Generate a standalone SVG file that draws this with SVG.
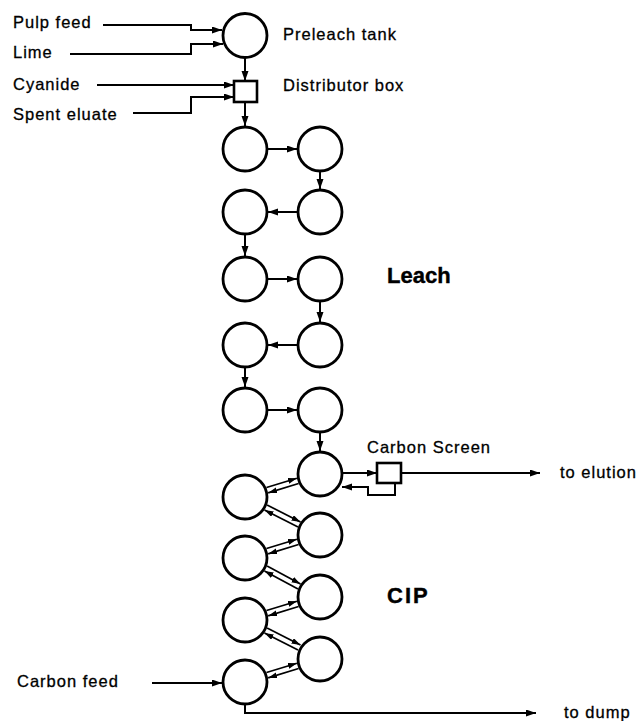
<svg xmlns="http://www.w3.org/2000/svg" width="639" height="721" viewBox="0 0 639 721">
  <defs>
    <marker id="arr" markerUnits="userSpaceOnUse" markerWidth="10" markerHeight="8" refX="10" refY="3.5" orient="auto">
      <path d="M0,0 L10,3.5 L0,7 z" fill="#000"/>
    </marker>
    <marker id="arrS" markerUnits="userSpaceOnUse" markerWidth="9" markerHeight="7" refX="9" refY="3" orient="auto">
      <path d="M0,0 L9,3 L0,6 z" fill="#000"/>
    </marker>
    <style>
      .tank { fill: #fff; stroke: #000; stroke-width: 2.8; }
      .box { fill: #fff; stroke: #000; stroke-width: 2.6; }
      .flow { fill: none; stroke: #000; stroke-width: 2; marker-end: url(#arr); }
      .xfer { fill: none; stroke: #000; stroke-width: 1.7; marker-end: url(#arrS); }
      .lbl { font-family: "Liberation Sans", Arial, sans-serif; font-size: 16.5px; letter-spacing: 1px; fill: #000; stroke: #000; stroke-width: 0.3px; }
      .big { font-family: "Liberation Sans", Arial, sans-serif; font-size: 22px; font-weight: bold; fill: #000; stroke: #000; stroke-width: 0.4px; }
    </style>
  </defs>
  <rect width="639" height="721" fill="#fff"/>

  <!-- connectors -->
  <g id="connectors">
    <!-- feeds into preleach tank and distributor -->
    <path class="flow" d="M103,25 H191 V30 H222"/>
    <path class="flow" d="M70,54 H191 V44 H223"/>
    <path class="flow" d="M97,85 H234"/>
    <path class="flow" d="M133,113 H191 V97 H234"/>
    <path class="flow" d="M245,58 V81"/>
    <path class="flow" d="M245,102 V126"/>
    <!-- leach train -->
    <path class="flow" d="M268,149 H297"/>
    <path class="flow" d="M320,172 V189"/>
    <path class="flow" d="M297,212 H268"/>
    <path class="flow" d="M245,235 V256"/>
    <path class="flow" d="M268,279 H297"/>
    <path class="flow" d="M320,302 V322"/>
    <path class="flow" d="M297,345 H268"/>
    <path class="flow" d="M245,368 V387"/>
    <path class="flow" d="M268,410 H297"/>
    <path class="flow" d="M320,433 V451"/>
    <!-- carbon screen and outlets -->
    <path class="flow" d="M343,473 H377"/>
    <path class="flow" d="M401,473 H540"/>
    <path class="flow" d="M395,483 V495 H368 V487 H342"/>
    <path class="flow" d="M152,683 H222"/>
    <path class="flow" d="M245,705 V713 H536"/>
    <!-- CIP counter-current transfers -->
    <path class="xfer" d="M266.5,487.5 L296.9,478.2"/>
    <path class="xfer" d="M298.6,483.5 L268.1,492.9"/>
    <path class="xfer" d="M267.1,505 L300.5,522"/>
    <path class="xfer" d="M298,527 L264.5,510"/>
    <path class="xfer" d="M266.5,548.5 L296.9,539.2"/>
    <path class="xfer" d="M298.6,544.5 L268.1,553.9"/>
    <path class="xfer" d="M267.1,566 L300.5,584"/>
    <path class="xfer" d="M298,589 L264.5,571"/>
    <path class="xfer" d="M266.5,610.5 L296.9,601.2"/>
    <path class="xfer" d="M298.6,606.5 L268.1,615.9"/>
    <path class="xfer" d="M267.1,628 L300.5,645"/>
    <path class="xfer" d="M298,650 L264.5,633"/>
    <path class="xfer" d="M266.5,672.5 L296.9,663.2"/>
    <path class="xfer" d="M298.6,668.5 L268.1,677.9"/>
  </g>

  <!-- feed labels -->
  <g id="feeds">
    <text class="lbl" x="13" y="28">Pulp feed</text>
    <text class="lbl" x="13" y="58">Lime</text>
    <text class="lbl" x="13" y="90">Cyanide</text>
    <text class="lbl" x="13" y="120">Spent eluate</text>
    <text class="lbl" x="17" y="687">Carbon feed</text>
  </g>

  <g id="preleach">
    <circle class="tank" cx="245" cy="35.5" r="22"/>
    <text class="lbl" x="283" y="40">Preleach tank</text>
  </g>

  <g id="distributor">
    <rect class="box" x="234" y="81" width="23" height="21"/>
    <text class="lbl" x="283" y="91">Distributor box</text>
  </g>

  <!-- leach tanks -->
  <g id="leach-1"><circle class="tank" cx="245" cy="149" r="22"/></g>
  <g id="leach-2"><circle class="tank" cx="320" cy="149" r="22"/></g>
  <g id="leach-3"><circle class="tank" cx="320" cy="212" r="22"/></g>
  <g id="leach-4"><circle class="tank" cx="245" cy="212" r="22"/></g>
  <g id="leach-5"><circle class="tank" cx="245" cy="279" r="22"/></g>
  <g id="leach-6"><circle class="tank" cx="320" cy="279" r="22"/></g>
  <g id="leach-7"><circle class="tank" cx="320" cy="345" r="22"/></g>
  <g id="leach-8"><circle class="tank" cx="245" cy="345" r="22"/></g>
  <g id="leach-9"><circle class="tank" cx="245" cy="410" r="22"/></g>
  <g id="leach-10"><circle class="tank" cx="320" cy="410" r="22"/></g>
  <g id="leach-label"><text class="big" x="387" y="283">Leach</text></g>

  <!-- CIP tanks -->
  <g id="cip-1"><circle class="tank" cx="320" cy="474" r="22"/></g>
  <g id="cip-2"><circle class="tank" cx="245" cy="497" r="22"/></g>
  <g id="cip-3"><circle class="tank" cx="320" cy="535" r="22"/></g>
  <g id="cip-4"><circle class="tank" cx="245" cy="558" r="22"/></g>
  <g id="cip-5"><circle class="tank" cx="320" cy="597" r="22"/></g>
  <g id="cip-6"><circle class="tank" cx="245" cy="620" r="22"/></g>
  <g id="cip-7"><circle class="tank" cx="320" cy="659" r="22"/></g>
  <g id="cip-8"><circle class="tank" cx="245" cy="682" r="22"/></g>
  <g id="cip-label"><text class="big" x="387" y="603" letter-spacing="2">CIP</text></g>

  <g id="carbon-screen">
    <rect class="box" x="377" y="463" width="24" height="20"/>
    <text class="lbl" x="367" y="453">Carbon Screen</text>
  </g>

  <g id="outlets">
    <text class="lbl" x="560" y="478">to elution</text>
    <text class="lbl" x="564" y="718">to dump</text>
  </g>
</svg>
